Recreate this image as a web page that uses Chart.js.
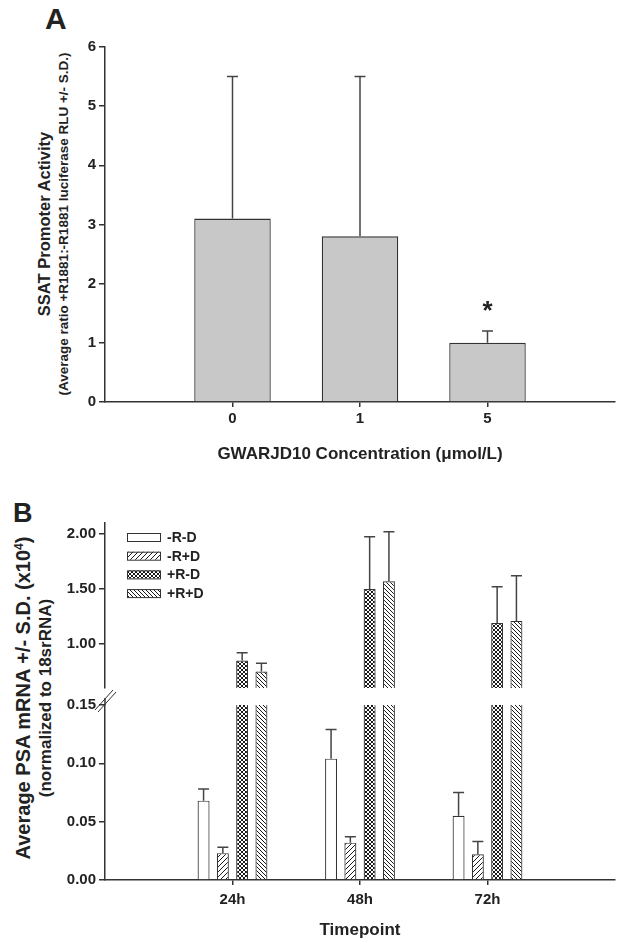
<!DOCTYPE html>
<html>
<head>
<meta charset="utf-8">
<script src="https://cdn.jsdelivr.net/npm/chart.js@4.4.0/dist/chart.umd.min.js"></script>
<style>
  html, body { margin: 0; padding: 0; background: #fff; }
  body { width: 624px; height: 948px; position: relative; overflow: hidden;
         font-family: 'Liberation Sans', Arial, sans-serif; color: #222; }
  canvas { position: absolute; left: 0; }
  .lbl { position: absolute; font-weight: bold; line-height: 1; white-space: nowrap; }
  .rot { transform: translate(-50%, -50%) rotate(-90deg); }
  .sup { position: relative; top: -0.55em; font-size: 0.6em; }
</style>
</head>
<body>
<div class="lbl" style="left:45px;top:4px;font-size:30px">A</div>
<div class="lbl rot" style="left:44px;top:224px;font-size:16.5px">SSAT Promoter Activity</div>
<div class="lbl rot" style="left:64px;top:224px;font-size:13.5px">(Average ratio +R1881:-R1881 luciferase RLU +/- S.D.)</div>
<canvas id="chartA" width="624" height="470" style="top:0"></canvas>

<div class="lbl" style="left:13px;top:500px;font-size:27px">B</div>
<div class="lbl rot" style="left:23px;top:698px;font-size:20px">Average PSA mRNA +/- S.D. (x10<span class="sup">4</span>)</div>
<div class="lbl rot" style="left:45px;top:698px;font-size:17px">(normalized to 18srRNA)</div>
<canvas id="chartBTop" width="624" height="220" style="top:480px"></canvas>
<canvas id="chartBBottom" width="624" height="258" style="top:690px"></canvas>

<script>
// panel A data
const concentrations = ['0', '1', '5'];
const ssatMeans = [3.1, 2.8, 1.0];
const ssatSD = [2.4, 2.7, 0.2];
const ssatMarks = ['', '', '*'];
const ssatTicks = [0, 1, 2, 3, 4, 5, 6];

// panel B data
const timepoints = ['24h', '48h', '72h'];
const seriesNames = ['-R-D', '-R+D', '+R-D', '+R+D'];
const mRmD = [0.068, 0.104, 0.055];
const mRmDsd = [0.010, 0.025, 0.020];
const mRpD = [0.023, 0.032, 0.022];
const mRpDsd = [0.005, 0.005, 0.011];
const pRmD = [0.85, 1.50, 1.19];
const pRmDsd = [0.07, 0.475, 0.33];
const pRpD = [0.75, 1.57, 1.21];
const pRpDsd = [0.075, 0.45, 0.41];
const upperTicks = [1.0, 1.5, 2.0];
const lowerTicks = [0, 0.05, 0.10, 0.15];

const ink = '#222';
const axisCol = '#333';
Chart.defaults.font.family = "'Liberation Sans', Arial, sans-serif";
Chart.defaults.color = ink;

// empty slots at both ends so the groups sit at 1/4, 2/4, 3/4 of the axis
const pad = a => [null, ...a, null];
const padLabels = a => ['', ...a, ''];
const tickFont = { size: 15, weight: 'bold' };
const tickCol = c => (c.tick && c.tick.label) ? axisCol : 'rgba(0,0,0,0)';

function hatch(kind) {
  const s = kind === 'fwd' ? 5 : 4;
  const c = document.createElement('canvas');
  c.width = s; c.height = s;
  const g = c.getContext('2d');
  g.fillStyle = '#fff';
  g.fillRect(0, 0, s, s);
  g.strokeStyle = '#1a1a1a';
  g.lineWidth = 1;
  const seg = (x1, y1, x2, y2) => { g.beginPath(); g.moveTo(x1, y1); g.lineTo(x2, y2); g.stroke(); };
  if (kind === 'fwd' || kind === 'cross') {
    seg(0, s, s, 0); seg(-1, 1, 1, -1); seg(s - 1, s + 1, s + 1, s - 1);
  }
  if (kind === 'back' || kind === 'cross') {
    seg(0, 0, s, s); seg(-1, s - 1, 1, s + 1); seg(s - 1, -1, s + 1, 1);
  }
  return g.createPattern(c, 'repeat');
}
const fills = ['#ffffff', hatch('fwd'), hatch('cross'), hatch('back')];

const errorBars = {
  id: 'errorBars',
  afterDatasetsDraw(chart) {
    const { ctx, chartArea: a } = chart;
    ctx.save();
    ctx.beginPath();
    ctx.rect(a.left, a.top - 1, a.right - a.left, a.bottom - a.top + 1);
    ctx.clip();
    ctx.strokeStyle = '#444';
    ctx.lineWidth = 1.5;
    chart.data.datasets.forEach((ds, di) => {
      const meta = chart.getDatasetMeta(di);
      const ys = chart.scales[meta.yAxisID];
      meta.data.forEach((bar, i) => {
        const v = ds.data[i], e = ds.errors[i];
        if (v == null || e == null) return;
        const yTop = ys.getPixelForValue(v + e);
        ctx.beginPath();
        ctx.moveTo(bar.x, ys.getPixelForValue(v));
        ctx.lineTo(bar.x, yTop);
        ctx.moveTo(bar.x - 5.5, yTop);
        ctx.lineTo(bar.x + 5.5, yTop);
        ctx.stroke();
      });
    });
    ctx.restore();
  }
};

const stars = {
  id: 'stars',
  afterDatasetsDraw(chart) {
    const { ctx } = chart;
    const ds = chart.data.datasets[0];
    const meta = chart.getDatasetMeta(0);
    const ys = chart.scales.y;
    ctx.save();
    ctx.font = "bold 26px 'Liberation Sans', Arial";
    ctx.fillStyle = ink;
    ctx.textAlign = 'center';
    ctx.textBaseline = 'alphabetic';
    meta.data.forEach((bar, i) => {
      if (!ds.marks[i]) return;
      ctx.fillText(ds.marks[i], bar.x, ys.getPixelForValue(ds.data[i] + ds.errors[i]) - 12);
    });
    ctx.restore();
  }
};

const boxLegend = {
  id: 'boxLegend',
  afterDraw(chart) {
    const { ctx, chartArea: a } = chart;
    ctx.save();
    ctx.font = "bold 14px 'Liberation Sans', Arial";
    ctx.textBaseline = 'middle';
    chart.data.datasets.forEach((ds, i) => {
      const x = a.left + 22, y = a.top + 14 + i * 18.7;
      ctx.fillStyle = ds.backgroundColor;
      ctx.fillRect(x, y - 4, 33, 8);
      ctx.strokeStyle = axisCol;
      ctx.lineWidth = 1;
      ctx.strokeRect(x + 0.5, y - 3.5, 33, 8);
      ctx.fillStyle = ink;
      ctx.fillText(ds.label, x + 40, y + 1);
    });
    ctx.restore();
  }
};

const axisBreak = {
  id: 'axisBreak',
  afterDraw(chart) {
    const { ctx, chartArea: a } = chart;
    ctx.save();
    ctx.strokeStyle = axisCol;
    ctx.lineWidth = 1.5;
    ctx.beginPath();
    ctx.moveTo(a.left, a.top - 7);
    ctx.lineTo(a.left, a.top);
    ctx.stroke();
    ctx.lineWidth = 1;
    ctx.beginPath();
    ctx.moveTo(a.left - 10, a.top + 5); ctx.lineTo(a.left + 8, a.top - 15);
    ctx.moveTo(a.left - 7, a.top + 7); ctx.lineTo(a.left + 11, a.top - 13);
    ctx.stroke();
    ctx.restore();
  }
};

const xGrid = { offset: false, drawOnChartArea: false, tickLength: 5, tickColor: tickCol, lineWidth: 1.5 };

// panel A
new Chart(document.getElementById('chartA'), {
  type: 'bar',
  data: {
    labels: padLabels(concentrations),
    datasets: [{
      data: pad(ssatMeans),
      errors: pad(ssatSD),
      marks: pad(ssatMarks),
      backgroundColor: '#c8c8c8',
      borderColor: axisCol,
      borderWidth: 1.3,
      barPercentage: 0.6,
      categoryPercentage: 1
    }]
  },
  options: {
    responsive: false,
    animation: false,
    layout: { padding: { top: 47, right: 9, left: 0, bottom: 0 } },
    plugins: { legend: { display: false }, tooltip: { enabled: false } },
    scales: {
      x: {
        offset: false,
        grid: xGrid,
        border: { color: axisCol, width: 1.5 },
        ticks: { font: tickFont, color: ink, padding: 3, autoSkip: false, maxRotation: 0 },
        title: { display: true, text: 'GWARJD10 Concentration (μmol/L)', color: ink,
                 font: { size: 17, weight: 'bold' }, padding: { top: 0, bottom: 5 } },
        afterFit: s => { s.height = 68; }
      },
      y: {
        min: 0, max: 6,
        afterBuildTicks: s => { s.ticks = ssatTicks.map(v => ({ value: v })); },
        ticks: { font: tickFont, color: ink, padding: 3 },
        grid: { drawOnChartArea: false, tickLength: 6, color: axisCol, lineWidth: 1.5 },
        border: { color: axisCol, width: 1.5 },
        afterFit: s => { s.width = 105; }
      }
    }
  },
  plugins: [errorBars, stars]
});

// panel B, split at the axis break
const means = [mRmD, mRpD, pRmD, pRpD];
const sds = [mRmDsd, mRpDsd, pRmDsd, pRpDsd];
const bDatasets = () => seriesNames.map((name, i) => ({
  label: name,
  data: pad(means[i]),
  errors: pad(sds[i]),
  backgroundColor: fills[i],
  borderColor: axisCol,
  borderWidth: 1.2,
  barPercentage: 0.62,
  categoryPercentage: 0.605,
  clip: 0
}));
const bYAxis = (min, max, ticks) => ({
  min, max,
  afterBuildTicks: s => { s.ticks = ticks.map(v => ({ value: v })); },
  ticks: { font: { size: 15, weight: 'bold' }, color: ink, padding: 3, callback: v => v.toFixed(2) },
  grid: { drawOnChartArea: false, tickLength: 6, color: axisCol, lineWidth: 1.5 },
  border: { color: axisCol, width: 1.5 },
  afterFit: s => { s.width = 105; }
});

new Chart(document.getElementById('chartBTop'), {
  type: 'bar',
  data: { labels: padLabels(timepoints), datasets: bDatasets() },
  options: {
    responsive: false,
    animation: false,
    layout: { padding: { top: 43, right: 9, left: 0, bottom: 0 } },
    plugins: { legend: { display: false }, tooltip: { enabled: false } },
    scales: {
      x: { display: false, offset: false },
      y: bYAxis(0.6, 2.1, upperTicks)
    }
  },
  plugins: [errorBars, boxLegend]
});

new Chart(document.getElementById('chartBBottom'), {
  type: 'bar',
  data: { labels: padLabels(timepoints), datasets: bDatasets() },
  options: {
    responsive: false,
    animation: false,
    layout: { padding: { top: 15, right: 9, left: 0, bottom: 0 } },
    plugins: { legend: { display: false }, tooltip: { enabled: false } },
    scales: {
      x: {
        offset: false,
        grid: xGrid,
        border: { color: axisCol, width: 1.5 },
        ticks: { font: tickFont, color: ink, padding: 6, autoSkip: false, maxRotation: 0 },
        title: { display: true, text: 'Timepoint', color: ink,
                 font: { size: 17, weight: 'bold' }, padding: { top: 0, bottom: 7 } },
        afterFit: s => { s.height = 68; }
      },
      y: bYAxis(0, 0.15, lowerTicks)
    }
  },
  plugins: [errorBars, axisBreak]
});
</script>
</body>
</html>
